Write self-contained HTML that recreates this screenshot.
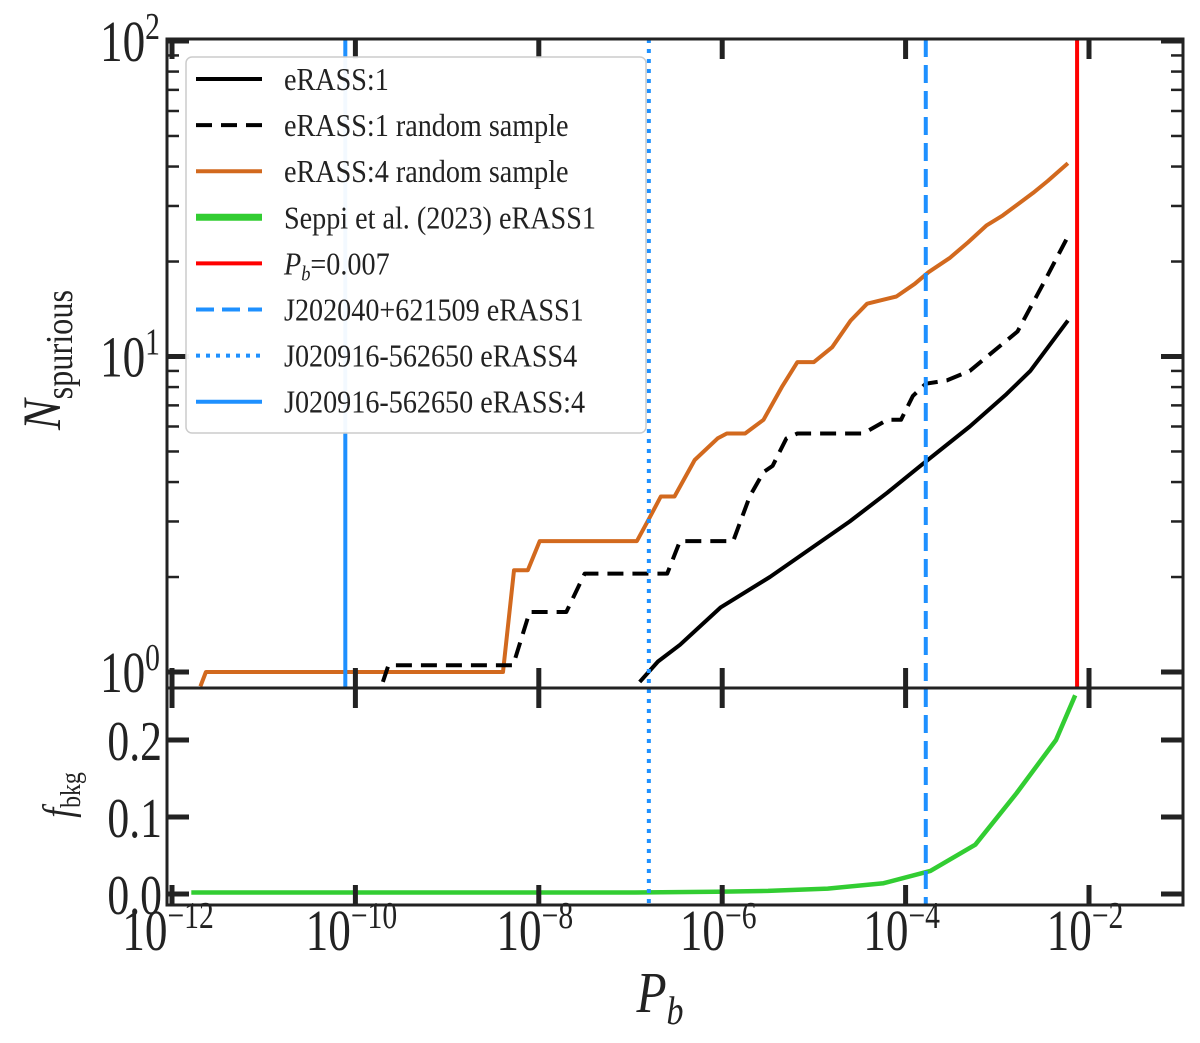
<!DOCTYPE html>
<html><head><meta charset="utf-8"><style>
html,body{margin:0;padding:0;background:#fff;}
svg{display:block;font-family:"Liberation Serif",serif;}
</style></head><body>
<svg id="chart" width="1200" height="1043" viewBox="0 0 1200 1043">
<g id="marks"></g>
<g id="axes"></g>
<g id="legend"></g>
</svg>
<script>
// data: [log10(Pb), value]
const erass1 = [[-6.90,0.93],[-6.70,1.08],[-6.46,1.22],[-6.02,1.6],[-5.48,2.0],[-5.0,2.5],[-4.61,3.0],[-4.2,3.7],[-3.84,4.5],[-3.30,6.0],[-2.9,7.6],[-2.64,9.0],[-2.23,13]];
const erass1Random = [[-9.70,0.93],[-9.64,1.05],[-8.28,1.05],[-8.10,1.55],[-7.70,1.55],[-7.50,2.05],[-6.60,2.05],[-6.46,2.6],[-5.88,2.6],[-5.70,3.6],[-5.55,4.3],[-5.45,4.5],[-5.30,5.5],[-5.18,5.7],[-4.46,5.7],[-4.20,6.3],[-4.05,6.3],[-3.92,7.5],[-3.78,8.2],[-3.55,8.4],[-3.30,9.0],[-2.78,12.0],[-2.50,17],[-2.23,24]];
const erass4Random = [[-11.69,0.9],[-11.63,1.0],[-8.39,1.0],[-8.27,2.1],[-8.12,2.1],[-7.99,2.6],[-6.93,2.6],[-6.80,3.05],[-6.67,3.6],[-6.52,3.6],[-6.30,4.7],[-6.05,5.5],[-5.95,5.7],[-5.75,5.7],[-5.55,6.3],[-5.35,8.0],[-5.18,9.6],[-5.0,9.6],[-4.80,10.7],[-4.60,13],[-4.42,14.7],[-4.10,15.5],[-3.90,17],[-3.75,18.5],[-3.52,20.5],[-3.32,23],[-3.12,26],[-2.94,28],[-2.61,33],[-2.45,36],[-2.23,41]];
const seppi = [[-11.79,0.002],[-9,0.002],[-7,0.002],[-6.07,0.003],[-5.5,0.004],[-4.85,0.007],[-4.24,0.014],[-3.73,0.03],[-3.24,0.064],[-2.79,0.131],[-2.36,0.2],[-2.15,0.258]];
const vlinePb = [-2.13];
const vlineJ2020 = [-3.78];
const vlineJ0209e4 = [-6.80];
const vlineJ0209E4 = [-10.11];
const xTicks = [-12,-10,-8,-6,-4,-2];
const yTopTicks = [0,1,2];
const yBotTicks = [0,0.1,0.2];
const legendLabels = ["eRASS:1","eRASS:1 random sample","eRASS:4 random sample","Seppi et al. (2023) eRASS1","Pb","J202040+621509 eRASS1","J020916-562650 eRASS4","J020916-562650 eRASS:4"];

const L=167,R=1183,T=39,M=688,B=905;
const xs = lv => 172 + (lv+12)*91.7;
const ysTop = n => 672 - Math.log10(n)*315.5;
const ysBot = v => 894 - v*770;
const NS="http://www.w3.org/2000/svg";
function mk(tag, attrs, parent){const e=document.createElementNS(NS,tag);for(const k in attrs)e.setAttribute(k,attrs[k]);parent.appendChild(e);return e;}
const marks=document.getElementById('marks'), axes=document.getElementById('axes'), leg=document.getElementById('legend');
mk('defs',{},marks).innerHTML='<clipPath id="ct"><rect x="'+L+'" y="'+T+'" width="'+(R-L)+'" height="'+(M-T)+'"/></clipPath><clipPath id="cb"><rect x="'+L+'" y="'+M+'" width="'+(R-L)+'" height="'+(B-M)+'"/></clipPath>';
const gt=mk('g',{'clip-path':'url(#ct)'},marks), gb=mk('g',{'clip-path':'url(#cb)'},marks);

function vline(arr,color,dash,name,y2){
  arr.forEach(lv=>{
    const l=mk('line',{x1:xs(lv),x2:xs(lv),y1:T,y2:y2,stroke:color,'stroke-width':4,'stroke-dasharray':dash},marks);
    
    
  });
}
function path(arr,ys,g,color,w,dash,name){
  const d=arr.map((p,i)=>(i?'L':'M')+xs(p[0]).toFixed(1)+','+ys(p[1]).toFixed(1)).join('');
  const p=mk('path',{d:d,fill:'none',stroke:color,'stroke-width':w,'stroke-dasharray':dash,'stroke-linejoin':'round'},g);
  
  
}
path(erass4Random,ysTop,gt,'#d2691e',4,'','erass4-random-line');
path(erass1Random,ysTop,gt,'#000',4,'16,9','erass1-random-line');
path(erass1,ysTop,gt,'#000',4,'','erass1-line');
path(seppi,ysBot,gb,'#32cd32',4.5,'','seppi-line');
vline(vlinePb,'#ff0000','','pb-0007-line',M);
vline(vlineJ2020,'#1e90ff','18,8','j202040-eRASS1-line',B);
vline(vlineJ0209e4,'#1e90ff','4,6','j020916-eRASS4-dotted-line',B);
vline(vlineJ0209E4,'#1e90ff','','j020916-eRASS-4-line',M);

// condensed text helper
function ctext(parent,x,y,fs,sx,anchor,html,name){
  const g=mk('g',{transform:'translate('+x+','+y+') scale('+sx+',1)'},parent);
  const t=mk('text',{x:0,y:0,'text-anchor':anchor,'font-size':fs,fill:'#222'},g);
  t.innerHTML=html;
  
  
  return t;
}

// frames
mk('rect',{x:L,y:T,width:R-L,height:B-T,fill:'none',stroke:'#222','stroke-width':3},axes);
mk('line',{x1:L,x2:R,y1:M,y2:M,stroke:'#222','stroke-width':3},axes);
function tk(x1,y1,x2,y2,w){mk('line',{x1,y1,x2,y2,stroke:'#222','stroke-width':w||5},axes);}
xTicks.forEach(lv=>{
  const x=xs(lv);
  tk(x,T,x,T+20);tk(x,M-20,x,M+20);tk(x,B-20,x,B);
  ctext(axes,x-4,950,58,0.78,'middle','10<tspan dy="-22" font-size="38">−'+(-lv)+'</tspan>','x-tick-label');
});
yTopTicks.forEach(e=>{
  const y=ysTop(Math.pow(10,e));
  tk(L,y,L+22,y);tk(R-22,y,R,y);
  ctext(axes,160,y+20,58,0.78,'end','10<tspan dy="-22" font-size="38">'+e+'</tspan>','y-tick-label');
});
for(let e=0;e<2;e++)for(let m=2;m<10;m++){const y=ysTop(m*Math.pow(10,e));if(y>T){tk(L,y,L+12,y,2.5);tk(R-12,y,R,y,2.5);}}
yBotTicks.forEach(v=>{
  const y=ysBot(v);
  tk(L,y,L+22,y);tk(R-22,y,R,y);
  ctext(axes,162,y+20,56,0.78,'end',v.toFixed(1),'y-bottom-tick-label');
});
ctext(axes,660,1012,58,0.85,'middle','<tspan font-style="italic">P</tspan><tspan dy="12" font-size="40" font-style="italic">b</tspan>','x-axis-title');
let t=mk('text',{transform:'translate(60,360) rotate(-90) scale(0.85,1)','text-anchor':'middle','font-size':54,fill:'#222'},axes);
t.innerHTML='<tspan font-style="italic">N</tspan><tspan dy="12" font-size="38">spurious</tspan>';

t=mk('text',{transform:'translate(72,795) rotate(-90) scale(0.85,1)','text-anchor':'middle','font-size':42,fill:'#222'},axes);
t.innerHTML='<tspan font-style="italic">f</tspan><tspan dy="8" font-size="28">bkg</tspan>';


// legend
mk('rect',{x:186,y:57,width:460,height:376,rx:6,fill:'#fff','fill-opacity':0.95,stroke:'#ccc','stroke-width':1.5},leg);
const lstyles=[['#000',4,''],['#000',4,'16,9'],['#d2691e',4,''],['#32cd32',7,''],['#ff0000',4,''],['#1e90ff',4,'18,8'],['#1e90ff',4,'4,6'],['#1e90ff',4,'']];
legendLabels.forEach((lab,i)=>{
  const y=79+i*46.1;
  const g=mk('g',{},leg);
  
  
  mk('line',{x1:196,x2:262,y1:y,y2:y,stroke:lstyles[i][0],'stroke-width':lstyles[i][1],'stroke-dasharray':lstyles[i][2],'stroke-linecap':'butt'},g);
  const html = lab==='Pb' ? '<tspan font-style="italic">P</tspan><tspan dy="6" font-size="21" font-style="italic">b</tspan><tspan dy="-6">=0.007</tspan>' : lab;
  ctext(g,284,y+11,32,0.88,'start',html,'legend-label');
});
</script>
</body></html>
